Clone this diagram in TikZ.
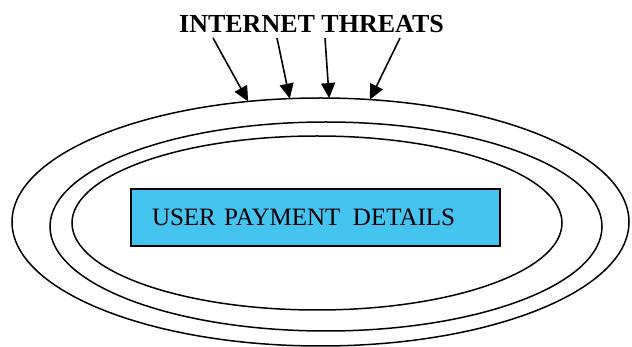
\documentclass[tikz,border=0pt]{standalone}
\usepackage{fontspec}
\setmainfont{Liberation Serif}
\usetikzlibrary{arrows.meta,positioning,shapes.geometric}
\definecolor{boxblue}{RGB}{70,196,240}

\begin{document}
\begin{tikzpicture}[x=1pt, y=-1pt,
  ring/.style={draw, ellipse, line width=1.5pt, inner sep=0pt, outer sep=0pt},
  threat/.style={-{Triangle[length=15pt, width=14pt]}, line width=1.6pt}]
\useasboundingbox (0,0) rectangle (632,347);
\node[anchor=base, font=\fontsize{26}{30}\selectfont\bfseries, inner sep=0pt] (title) at (311.5,33) {INTERNET THREATS};
\node[ring, minimum width=617pt, minimum height=248pt] (outer) at (320.5,222) {};
\node[ring, minimum width=552pt, minimum height=209pt] (middle) at (326,226.5) {};
\node[ring, minimum width=490pt, minimum height=174pt] (inner) at (317,223) {};
\node[draw, fill=boxblue, line width=1.3pt, minimum width=369pt, minimum height=57pt, text width=327pt, inner xsep=21pt, align=left, font=\fontsize{25}{28}\selectfont] (details) at (315.5,217.5) {USER PAYMENT\hspace{0.5em}DETAILS};
% arrows onto the outer ring
\foreach \i/\sx/\ang in {1/213/121.4, 2/277/104.8, 3/325/86.1, 4/400/68}{
  \coordinate (src\i) at (\sx,38);
  \draw[threat] (src\i) -- (outer.\ang);
}
\end{tikzpicture}
\end{document}
